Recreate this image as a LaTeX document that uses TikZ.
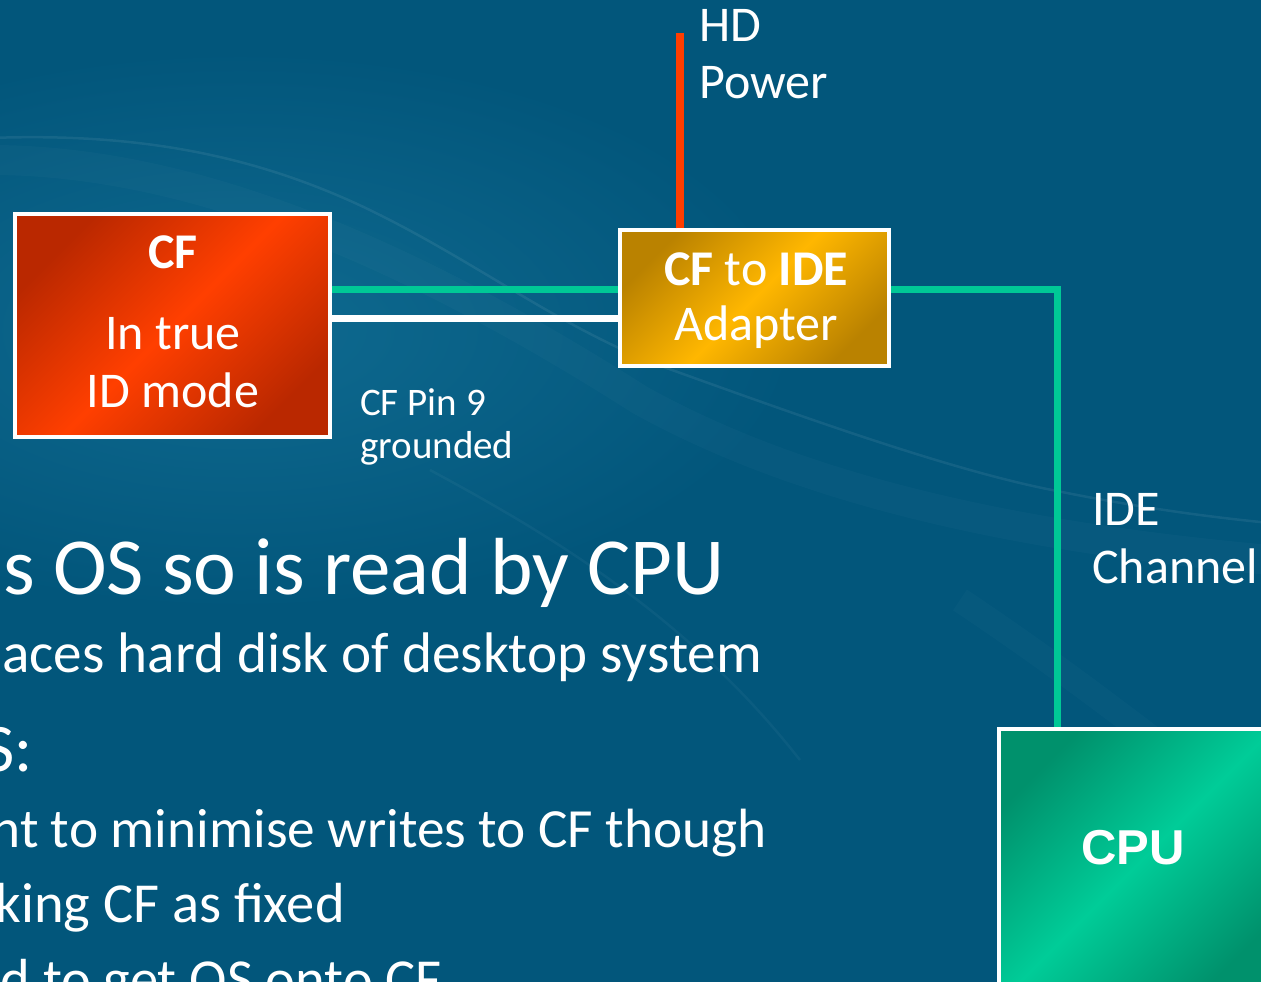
\documentclass[tikz,border=0pt]{standalone}
\usepackage{fontspec}
\setmainfont{Carlito}
\newfontfamily\cpufont{Liberation Sans}
\definecolor{bg}{HTML}{02567B}
\definecolor{bgl}{HTML}{0F6A90}
\definecolor{cfdark}{HTML}{BA2800}
\definecolor{cfbright}{HTML}{FF3F00}
\definecolor{addark}{HTML}{BA8200}
\definecolor{adbright}{HTML}{FFB700}
\definecolor{cpudark}{HTML}{00916C}
\definecolor{cpubright}{HTML}{00CC98}
\definecolor{wirec}{HTML}{00C896}
\definecolor{pwr}{HTML}{FF3D00}
\pgfdeclarehorizontalshading{cfshade}{100bp}{color(0bp)=(cfdark); color(25bp)=(cfdark); color(50bp)=(cfbright); color(75bp)=(cfdark); color(100bp)=(cfdark)}
\pgfdeclarehorizontalshading{adshade}{100bp}{color(0bp)=(addark); color(25bp)=(addark); color(50bp)=(adbright); color(75bp)=(addark); color(100bp)=(addark)}
\pgfdeclarehorizontalshading{cpushade}{100bp}{color(0bp)=(cpudark); color(25bp)=(cpudark); color(50bp)=(cpubright); color(75bp)=(cpudark); color(100bp)=(cpudark)}
\begin{document}
\begin{tikzpicture}[x=1pt,y=-1pt,
  box/.style={draw=white, line width=3.5pt, shade, shading angle=-45, inner sep=0pt},
  txt/.style={text=white, inner sep=0pt},
  big/.style={font=\fontsize{50}{58}\selectfont},
  small/.style={font=\fontsize{39}{44}\selectfont},
  wire/.style={line width=7pt, draw=wirec},
  swoosh/.style={draw=white, opacity=0.07, line width=2.5pt},
]
\useasboundingbox (0,0) rectangle (1261,982);
\begin{scope}
\clip (0,0) rectangle (1261,982);
\fill[bg] (0,0) rectangle (1261,982);
\shade[inner color=bgl, outer color=bg] (240,330) ellipse [x radius=560pt, y radius=280pt];
% background swooshes
\draw[swoosh] (-10,138) .. controls (150,132) and (260,160) .. (355,203)
   .. controls (470,256) and (560,330) .. (672,370)
   .. controls (800,416) and (950,470) .. (1052,490)
   .. controls (1150,510) and (1220,518) .. (1270,523);
\draw[draw=white, opacity=0.025, line width=30pt] (-10,160) .. controls (200,160) and (420,260) .. (640,400)
   .. controls (820,500) and (1050,540) .. (1270,560);
\draw[swoosh, opacity=0.04] (430,470) .. controls (560,540) and (690,620) .. (800,760);
\draw[draw=white, opacity=0.02, line width=25pt] (960,600) .. controls (1080,680) and (1180,760) .. (1270,830);

% boxes
\node[box, shading=cfshade, minimum width=315pt, minimum height=223pt] (cf) at (172.5,325.5) {};
\node[box, shading=adshade, minimum width=269pt, minimum height=136pt] (ad) at (754.5,298) {};
\node[box, shading=cpushade, minimum width=276pt, minimum height=271pt] (cpu) at (1137,864.5) {};

% helper coordinates
\coordinate (gA) at (0,289);
\coordinate (wA) at (0,318);
\coordinate (ideX) at (1057,0);
\coordinate (hdtop) at (680,33);

% connectors
\draw[wire] (cf.east |- gA) -- (ad.west |- gA);
\draw[line width=7pt, white] (cf.east |- wA) -- (ad.west |- wA);
\draw[line width=7.5pt, pwr] (ad.north -| hdtop) -- (hdtop);
\draw[wire] (ad.east |- gA) -| (cpu.north -| ideX);

% box texts
\node[txt, anchor=base, font=\bfseries\fontsize{50}{58}\selectfont] (cfT1) at (173,268) {CF};
\node[txt, big, anchor=base] (cfT2) at (173,349) {In true};
\node[txt, big, anchor=base] (cfT3) at (173,407) {ID mode};
\node[txt, big, anchor=base] (adT1) at (756,285) {\textbf{CF} to \textbf{IDE}};
\node[txt, big, anchor=base] (adT2) at (756,340) {Adapter};
\node[txt, anchor=base, font=\cpufont\bfseries\fontsize{49}{58}\selectfont] (cpuT) at (1133,864) {CPU};

% labels
\node[txt, big, anchor=base west] (hd1) at (699,42) {HD};
\node[txt, big, anchor=base west] (hd2) at (699,99) {Power};
\node[txt, small, anchor=base west] (pin1) at (360,415) {CF Pin 9};
\node[txt, small, anchor=base west] (pin2) at (360,458) {grounded};
\node[txt, big, anchor=base west] (ide1) at (1092,525) {IDE};
\node[txt, big, anchor=base west] (ide2) at (1092,583) {Channel};

% body text
\node[txt, anchor=base east, font=\fontsize{81}{90}\selectfont] (b1) at (725,594) {s OS so is read by CPU};
\node[txt, anchor=base east, font=\fontsize{57.2}{64}\selectfont] (b2) at (762,672) {aces hard disk of desktop system};
\node[txt, anchor=base east, font=\fontsize{68}{76}\selectfont] (b3) at (33,771) {S:};
\node[txt, anchor=base east, font=\fontsize{55.3}{64}\selectfont] (b4) at (767,847) {nt to minimise writes to CF though};
\node[txt, anchor=base east, font=\fontsize{56.5}{64}\selectfont] (b5) at (345,922) {king CF as fixed};
\node[txt, anchor=base east, font=\fontsize{56.5}{64}\selectfont] (b6) at (442,998) {d to get OS onto CF};
\end{scope}
\end{tikzpicture}
\end{document}
